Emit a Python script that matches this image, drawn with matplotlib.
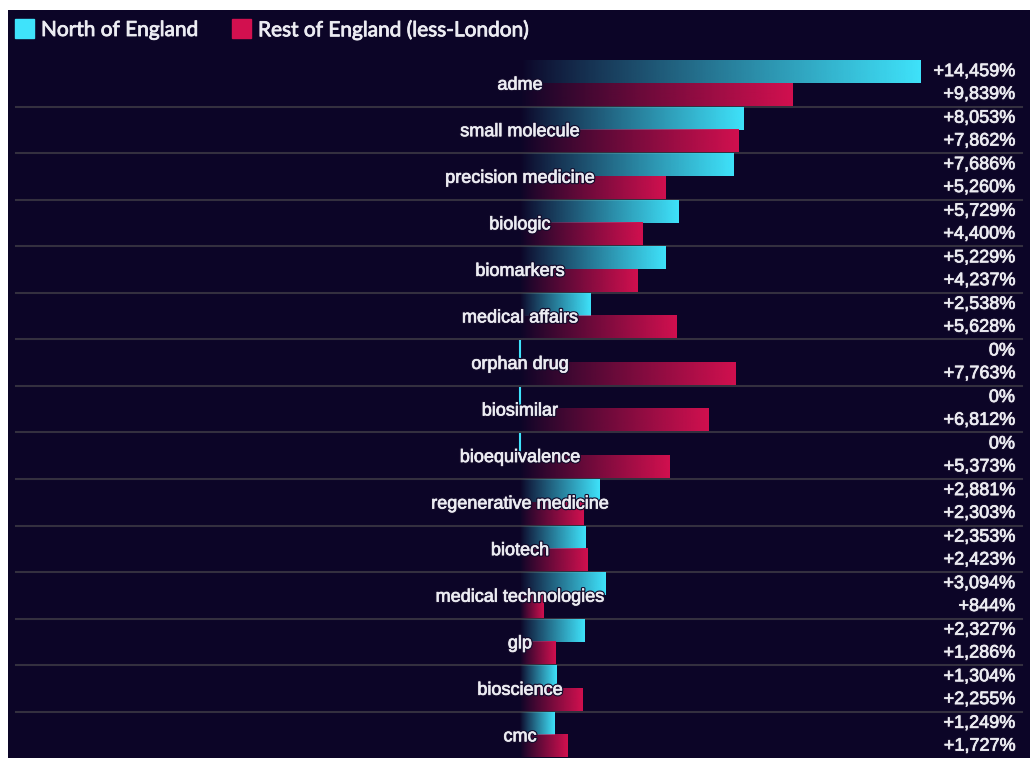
import numpy as np
import matplotlib
matplotlib.use("Agg")
import matplotlib.pyplot as plt
from matplotlib.colors import to_rgb
import matplotlib.patheffects as pe

categories = ["adme", "small molecule", "precision medicine", "biologic", "biomarkers",
              "medical affairs", "orphan drug", "biosimilar", "bioequivalence",
              "regenerative medicine", "biotech", "medical technologies", "glp",
              "bioscience", "cmc"]
north = [14459, 8053, 7686, 5729, 5229, 2538, 0, 0, 0, 2881, 2353, 3094, 2327, 1304, 1249]
rest = [9839, 7862, 5260, 4400, 4237, 5628, 7763, 6812, 5373, 2303, 2423, 844, 1286, 2255, 1727]
series_names = ["North of England", "Rest of England (less-London)"]

BG = "#0c0527"
CYAN = "#3fe3fb"
PINK = "#d2104f"
SEP = "#34303f"
TXT = "#ececf2"

W, H = 1030, 758
fig = plt.figure(figsize=(W / 100, H / 100), dpi=100)
fig.patch.set_facecolor("white")

# dark panel from (8,10) to the right/bottom edge
ax = fig.add_axes([8 / W, 0, 1 - 8 / W, 1 - 10 / H])
ax.set_facecolor(BG)
ax.set_xticks([])
ax.set_yticks([])
for sp in ax.spines.values():
    sp.set_visible(False)

# scale: zero at px 520, 14459 at px 921
s = (921 - 520) / 14459
x0, x1 = (8 - 520) / s, (1030 - 520) / s
row = 46.55
y_top, y_bot = (10 - 60) / row, (758 - 60) / row


def grad_bar(y_lo, y_hi, value, color):
    if value <= 0:
        ax.vlines(0, y_lo, y_hi, color=color, lw=1.5, zorder=3)
        return
    rgb = to_rgb(color)
    n = 256
    img = np.zeros((1, n, 4))
    img[0, :, :3] = rgb
    img[0, :, 3] = np.linspace(0.0, 1.0, n) ** 0.9
    ax.imshow(img, extent=(0, value, y_hi, y_lo), aspect="auto",
              interpolation="bilinear", zorder=3)


shadow = [pe.Stroke(linewidth=2.2, foreground="#140c2c"),
          pe.Stroke(linewidth=0.5, foreground=TXT), pe.Normal()]
xr = (1015 - 520) / s
for i, cat in enumerate(categories):
    grad_bar(i + 0.02, i + 0.5, north[i], CYAN)
    grad_bar(i + 0.5, i + 0.98, rest[i], PINK)
    ax.text(0, i + 0.54, cat, ha="center", va="center", color=TXT, fontsize=13,
            family="Liberation Sans", zorder=5, path_effects=shadow)
    for v, yy in ((north[i], i + 0.25), (rest[i], i + 0.74)):
        lab = "0%" if v == 0 else f"+{v:,}%"
        ax.text(xr, yy, lab, ha="right", va="center", color=TXT, fontsize=13,
                family="Liberation Sans", zorder=5, path_effects=shadow)
    if i < len(categories) - 1:
        ax.plot([(16 - 520) / s, (1022 - 520) / s], [i + 1, i + 1],
                color=SEP, lw=1.5, zorder=2)

ax.set_xlim(x0, x1)
ax.set_ylim(y_bot, y_top)

# legend
for name, col, xp in zip(series_names, [CYAN, PINK], [15, 232]):
    fig.patches.append(plt.Rectangle((xp / W, 1 - 38 / H), 19 / W, 19 / H,
                                     transform=fig.transFigure, color=col))
    fig.text((xp + 26) / W, 1 - 30 / H, name, color=TXT, fontsize=15,
             family="Lato", va="center", ha="left",
             path_effects=[pe.Stroke(linewidth=0.6, foreground=TXT), pe.Normal()])

fig.savefig("out.png", dpi=100, facecolor=fig.get_facecolor())
